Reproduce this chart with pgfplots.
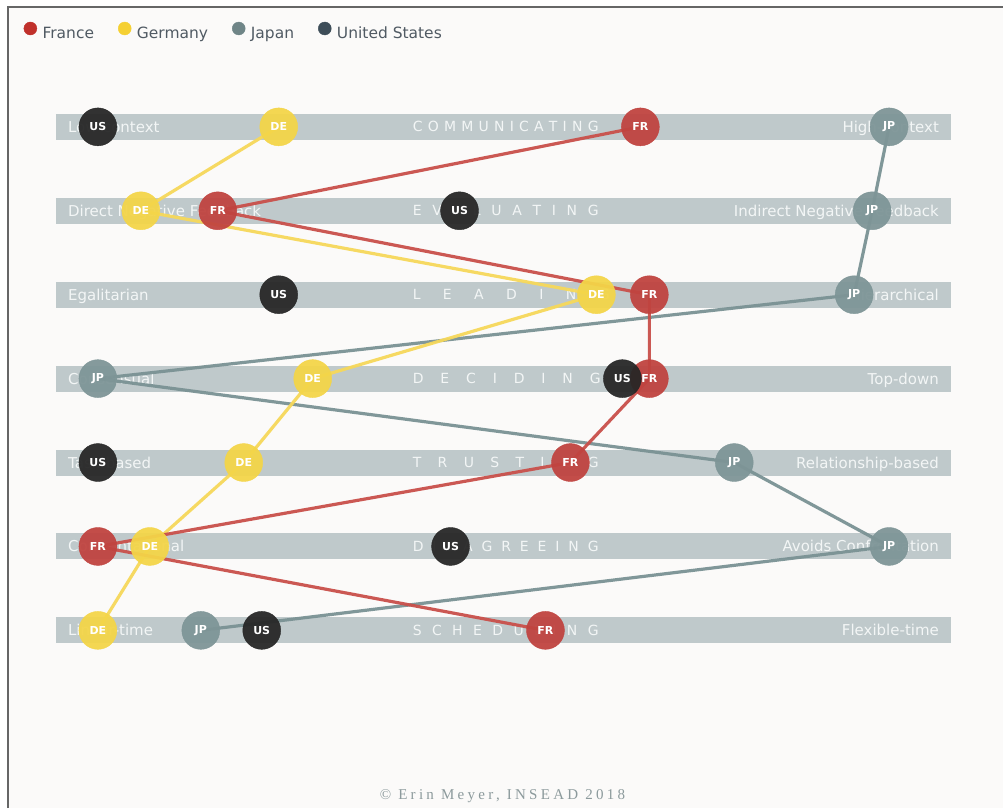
\documentclass[border=0pt]{standalone}
\usepackage{pgfplots}
\pgfplotsset{compat=1.18}
\usepackage{fontspec}
\setmainfont{DejaVu Sans}
\newfontfamily\footfont{Liberation Serif}[LetterSpace=22]
\definecolor{bg}{HTML}{FBFAF9}
\definecolor{band}{HTML}{BFC9CB}
\definecolor{bandtext}{HTML}{F3F6F6}
\definecolor{frc}{HTML}{C0433F}
\definecolor{dec}{HTML}{F4D548}
\definecolor{jpc}{HTML}{7E9597}
\definecolor{usc}{HTML}{262626}
\definecolor{frl}{HTML}{C9504B}
\definecolor{del}{HTML}{F6D85A}
\definecolor{jpl}{HTML}{7A9294}
\definecolor{frleg}{HTML}{C0302B}
\definecolor{deleg}{HTML}{F5D033}
\definecolor{jpleg}{HTML}{6F8587}
\definecolor{usleg}{HTML}{3D4D58}
\definecolor{legtext}{HTML}{505A63}
\definecolor{foot}{HTML}{8C9A9C}
\begin{document}
\begin{tikzpicture}
\begin{axis}[
  at={(0,0)}, anchor=south west,
  scale only axis, width=1004pt, height=809pt,
  xmin=0, xmax=1004, ymin=0, ymax=809, y dir=reverse,
  axis lines=none, clip=false,
  legend style={at={(axis cs:23.5,31)}, anchor=west, draw=none, fill=none, inner sep=0pt,
    font=\fontsize{15.5}{18}\selectfont, text=legtext, nodes={inner sep=0pt},
    /tikz/every even column/.append style={column sep=24pt},
    /tikz/every odd column/.append style={column sep=5.5pt}},
  legend columns=-1,
  legend image code/.code={\fill[#1] (6.5pt,5pt) circle (6.5pt);},
  circ/.style={color=#1, only marks, mark=*, mark size=19pt, mark options={draw=#1, fill=#1, opacity=0.94}, forget plot},
  conn/.style={#1, line width=3.2pt, line join=round, opacity=0.95, forget plot},
  lab/.style={draw=none, mark=none, nodes near coords, point meta=explicit symbolic,
    nodes near coords align=center,
    every node near coord/.append style={anchor=center, text=white, font=\fontsize{11}{13}\selectfont\bfseries}, forget plot},
]
% background and border
\fill[white] (axis cs:0,0) rectangle (axis cs:1004,809);
\fill[bg] (axis cs:8.5,7) rectangle (axis cs:1004,809);
\draw[black!60, line width=2pt] (axis cs:8.5,809) -- (axis cs:8.5,7) -- (axis cs:1004,7);
% legend
\addlegendimage{frleg}\addlegendentry{France}
\addlegendimage{deleg}\addlegendentry{Germany}
\addlegendimage{jpleg}\addlegendentry{Japan}
\addlegendimage{usleg}\addlegendentry{United States}
% bands
\pgfplotsinvokeforeach{127,211,295,379,463,547,631}{
  \addplot[band, line width=26pt, forget plot] coordinates {(56,#1) (952,#1)};
}
% band texts
\begin{scope}[every node/.style={text=bandtext, font=\fontsize{15}{18}\selectfont, inner sep=0pt}]
\node[anchor=base west] at (axis cs:68,132.5) {Low-context};
\node[anchor=base west] at (axis cs:68,216.5) {Direct Negative Feedback};
\node[anchor=base west] at (axis cs:68,300.5) {Egalitarian};
\node[anchor=base west] at (axis cs:68,384.5) {Consensual};
\node[anchor=base west] at (axis cs:68,468.5) {Task-based};
\node[anchor=base west] at (axis cs:68,552.5) {Confrontational};
\node[anchor=base west] at (axis cs:68,636.5) {Linear-time};
\node[anchor=base east] at (axis cs:940,132.5) {High-context};
\node[anchor=base east] at (axis cs:940,216.5) {Indirect Negative Feedback};
\node[anchor=base east] at (axis cs:940,300.5) {Hierarchical};
\node[anchor=base east] at (axis cs:940,384.5) {Top-down};
\node[anchor=base east] at (axis cs:940,468.5) {Relationship-based};
\node[anchor=base east] at (axis cs:940,552.5) {Avoids Confrontation};
\node[anchor=base east] at (axis cs:940,636.5) {Flexible-time};
\end{scope}
\begin{scope}[every node/.style={text=bandtext, font=\fontsize{14}{17}\selectfont, inner sep=0pt, anchor=base west}]
\node at (axis cs:413,132) {\hbox to 186pt{C\hfil O\hfil M\hfil M\hfil U\hfil N\hfil I\hfil C\hfil A\hfil T\hfil I\hfil N\hfil G}};
\node at (axis cs:413,216) {\hbox to 186pt{E\hfil V\hfil A\hfil L\hfil U\hfil A\hfil T\hfil I\hfil N\hfil G}};
\node at (axis cs:413,300) {\hbox to 197pt{L\hfil E\hfil A\hfil D\hfil I\hfil N\hfil G}};
\node at (axis cs:413,384) {\hbox to 188pt{D\hfil E\hfil C\hfil I\hfil D\hfil I\hfil N\hfil G}};
\node at (axis cs:413,468) {\hbox to 186pt{T\hfil R\hfil U\hfil S\hfil T\hfil I\hfil N\hfil G}};
\node at (axis cs:413,552) {\hbox to 186pt{D\hfil I\hfil S\hfil A\hfil G\hfil R\hfil E\hfil E\hfil I\hfil N\hfil G}};
\node at (axis cs:413,636) {\hbox to 186pt{S\hfil C\hfil H\hfil E\hfil D\hfil U\hfil L\hfil I\hfil N\hfil G}};
\end{scope}
% circles
\addplot[circ=jpc] coordinates {(890,127) (873,211) (855,295) (98,379) (735,463) (890,547) (201,631)};
\addplot[circ=dec] coordinates {(279,127) (141,211) (597,295) (313,379) (244,463) (150,547) (98,631)};
\addplot[circ=frc] coordinates {(641,127) (218,211) (650,295) (650,379) (571,463) (98,547) (546,631)};
\addplot[circ=usc] coordinates {(98,127) (460,211) (279,295) (623,379) (98,463) (451,547) (262,631)};
% connecting lines
\addplot[conn=jpl] coordinates {(890,127) (873,211) (855,295) (98,379) (735,463) (890,547) (201,631)};
\addplot[conn=del] coordinates {(279,127) (141,211) (597,295) (313,379) (244,463) (150,547) (98,631)};
\addplot[conn=frl] coordinates {(641,127) (218,211) (650,295) (650,379) (571,463) (98,547) (546,631)};
% labels
\addplot[lab] coordinates {(890,127)[JP] (873,211)[JP] (855,295)[JP] (98,379)[JP] (735,463)[JP] (890,547)[JP] (201,631)[JP]};
\addplot[lab] coordinates {(279,127)[DE] (141,211)[DE] (597,295)[DE] (313,379)[DE] (244,463)[DE] (150,547)[DE] (98,631)[DE]};
\addplot[lab] coordinates {(641,127)[FR] (218,211)[FR] (650,295)[FR] (650,379)[FR] (571,463)[FR] (98,547)[FR] (546,631)[FR]};
\addplot[lab] coordinates {(98,127)[US] (460,211)[US] (279,295)[US] (623,379)[US] (98,463)[US] (451,547)[US] (262,631)[US]};
% footer
\node[text=foot, font=\footfont\fontsize{15}{18}\selectfont, anchor=base] at (axis cs:503,800) {© Erin Meyer, INSEAD 2018};
\end{axis}
\end{tikzpicture}
\end{document}
